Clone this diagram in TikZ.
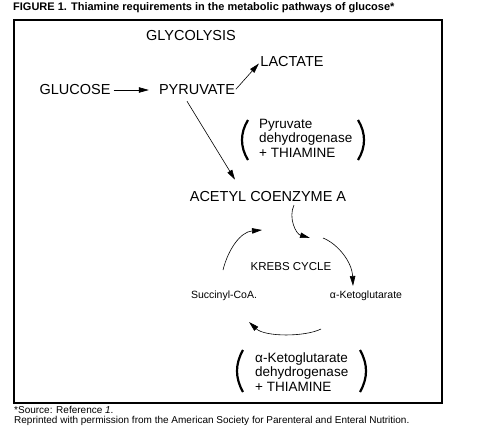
\documentclass[tikz,border=0pt]{standalone}
\usepackage{fontspec}
\setmainfont{Liberation Sans}
\usetikzlibrary{arrows.meta}

\begin{document}
\begin{tikzpicture}[x=1pt,y=-1pt,
		every node/.style={inner sep=0pt},
		big/.style={font=\fontsize{14.5}{14.5}\selectfont},
		enzyme/.style={font=\fontsize{13.5}{14.5}\selectfont,anchor=west,align=left},
		small/.style={font=\fontsize{10.5}{12}\selectfont},
		note/.style={font=\fontsize{10}{11}\selectfont,anchor=west},
		flow/.style={draw=black,line width=0.6pt,-{Triangle[length=10pt,width=5.5pt]}},
		paren/.style={draw=black,line width=2.2pt}]
		\useasboundingbox (0,0) rectangle (495,434);
		\node [anchor=west,font=\bfseries\fontsize{11}{12}\selectfont] (title) at (13,8) {FIGURE 1. Thiamine requirements in the metabolic pathways of glucose*};
		\draw [black,line width=1.8pt] (14,20) rectangle (442,403);
		\node [big] (glycolysis) at (191,36) {GLYCOLYSIS};
		\node [big] (lactate) at (292,62) {LACTATE};
		\node [big] (glucose) at (75,90) {GLUCOSE};
		\node [big] (pyruvate) at (197,90) {PYRUVATE};
		\node [big] (acetyl) at (268,197) {ACETYL COENZYME A};
		\node [font=\fontsize{11.5}{13}\selectfont] (krebs) at (291,267) {KREBS CYCLE};
		\node [small] (succinyl) at (224,296) {Succinyl-CoA.};
		\node [small] (keto) at (366,296) {α-Ketoglutarate};
		\node [enzyme] (pdh) at (259,138) {Pyruvate\\dehydrogenase\\+ THIAMINE};
		\node [enzyme] (akdh) at (255,372) {α-Ketoglutarate\\dehydrogenase\\+ THIAMINE};
		% brackets round the enzymes
		\draw [paren] (248,120) .. controls (240,133) and (240,147) .. (248,160);
		\draw [paren] (358,120) .. controls (366,133) and (366,147) .. (358,160);
		\draw [paren] (243,350) .. controls (235,364) and (235,378) .. (243,392);
		\draw [paren] (360,350) .. controls (368,364) and (368,378) .. (360,392);
		% glycolysis
		\draw [flow,shorten <=3pt,shorten >=10pt] (glucose) -- (pyruvate);
		\draw [flow,shorten <=1pt,shorten >=2pt] (pyruvate.east) -- (lactate.west);
		\draw [flow] ([shift={(-10pt,-6pt)}]pyruvate.south) -- ([shift={(-33pt,12pt)}]acetyl.north);
		% krebs cycle
		\coordinate (in) at (294,205);
		\coordinate (top) at (310,238);
		\coordinate (topr) at (323,238);
		\coordinate (right) at (353,286);
		\coordinate (bottomr) at (321,329);
		\coordinate (bottoml) at (249,322);
		\coordinate (left) at (223,270);
		\coordinate (topl) at (262,230);
		\draw [flow] (in) .. controls (288,218) and (296,234) .. (top);
		\draw [flow] (topr) .. controls (338,244) and (352,262) .. (right);
		\draw [flow] (bottomr) .. controls (305,337) and (265,337) .. (bottoml);
		\draw [flow] (left) .. controls (228,250) and (240,232) .. (topl);
		\node [note] (source) at (14,410) {*Source: Reference \textit{1}.};
		\node [note] (permission) at (14,421) {Reprinted with permission from the American Society for Parenteral and Enteral Nutrition.};
	\end{tikzpicture}
\end{document}
